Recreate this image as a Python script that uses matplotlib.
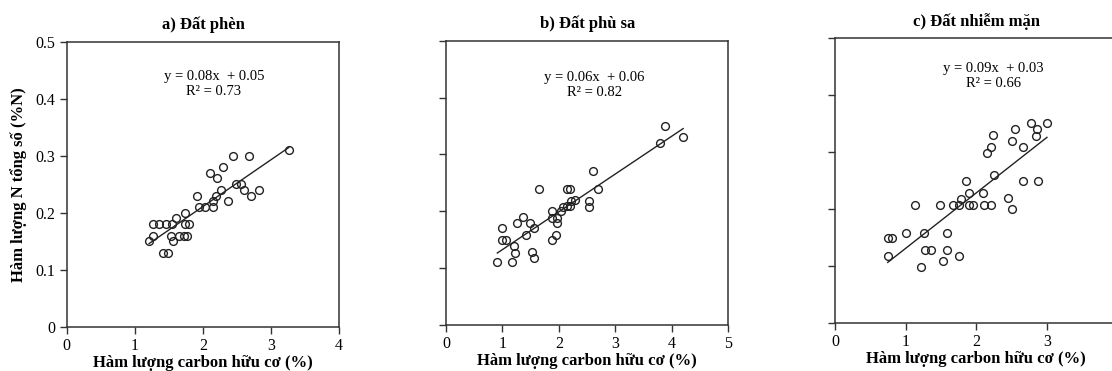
import numpy as np
import matplotlib
matplotlib.use("Agg")
import matplotlib.pyplot as plt

plt.rcParams["font.family"] = ["Liberation Serif", "DejaVu Serif"]

# Data (organic carbon %, total N %)
a_x = [1.21, 1.26, 1.26, 1.36, 1.46, 1.545, 1.60, 1.525, 1.565, 1.65, 1.72, 1.77,
       1.735, 1.80, 1.74, 1.42, 1.49, 1.91, 1.945, 2.03, 2.15, 2.15, 2.185, 2.10,
       2.21, 2.26, 2.29, 2.37, 2.435, 2.68, 2.48, 2.56, 2.60, 2.71, 2.82, 3.26]
a_y = [0.15, 0.16, 0.18, 0.18, 0.18, 0.18, 0.19, 0.16, 0.15, 0.16, 0.16, 0.16,
       0.18, 0.18, 0.20, 0.13, 0.13, 0.23, 0.21, 0.21, 0.21, 0.22, 0.23, 0.27,
       0.26, 0.24, 0.28, 0.22, 0.30, 0.30, 0.25, 0.25, 0.24, 0.23, 0.24, 0.31]

b_x = [0.91, 1.17, 1.0, 1.0, 1.06, 1.21, 1.23, 1.26, 1.37, 1.415, 1.486, 1.557,
       1.53, 1.557, 1.65, 1.87, 1.946, 1.88, 1.88, 1.97, 1.97, 2.03, 2.075, 2.145,
       2.19, 2.22, 2.29, 2.145, 2.19, 2.53, 2.53, 2.61, 2.69, 3.79, 3.87, 4.20]
b_y = [0.11, 0.11, 0.17, 0.15, 0.15, 0.139, 0.127, 0.18, 0.19, 0.158, 0.18, 0.17,
       0.129, 0.118, 0.239, 0.149, 0.158, 0.20, 0.189, 0.189, 0.18, 0.20, 0.208, 0.209,
       0.21, 0.219, 0.22, 0.239, 0.239, 0.219, 0.208, 0.271, 0.239, 0.32, 0.35, 0.33]

c_x = [0.745, 0.745, 0.80, 1.0, 1.13, 1.26, 1.215, 1.28, 1.36, 1.49, 1.53, 1.58,
       1.59, 1.665, 1.76, 1.75, 1.78, 1.855, 1.895, 1.90, 1.95, 2.10, 2.11, 2.21,
       2.15, 2.21, 2.24, 2.25, 2.45, 2.51, 2.51, 2.55, 2.655, 2.665, 2.78, 2.86,
       2.845, 2.87, 3.0]
c_y = [0.118, 0.149, 0.149, 0.159, 0.208, 0.159, 0.099, 0.129, 0.129, 0.208, 0.109, 0.129,
       0.159, 0.208, 0.118, 0.208, 0.218, 0.25, 0.229, 0.208, 0.208, 0.229, 0.208, 0.208,
       0.298, 0.309, 0.33, 0.26, 0.219, 0.20, 0.319, 0.34, 0.309, 0.25, 0.351, 0.34,
       0.329, 0.25, 0.351]

titles = ["a) Đất phèn", "b) Đất phù sa", "c) Đất nhiễm mặn"]
equations = ["y = 0.08x  + 0.05\nR² = 0.73",
             "y = 0.06x  + 0.06\nR² = 0.82",
             "y = 0.09x  + 0.03\nR² = 0.66"]
x_max = [4, 5, 4]
x_ticks = [[0, 1, 2, 3, 4], [0, 1, 2, 3, 4, 5], [0, 1, 2, 3]]  # 4 on panel c is cropped away
y_ticks = [0, 0.1, 0.2, 0.3, 0.4, 0.5]
y_ticklabels = ["0", "0.1", "0.2", "0.3", "0.4", "0.5"]
xlabel = "Hàm lượng carbon hữu cơ (%)"
ylabel = "Hàm lượng N tổng số (%N)"

# axes boxes in figure fractions (panel c runs past the right edge, as in the source)
boxes = [[0.060, 0.119, 0.245, 0.769],
         [0.401, 0.124, 0.254, 0.766],
         [0.751, 0.129, 0.254, 0.768]]
eq_pos = [(0.54, 0.85), (0.526, 0.845), (0.559, 0.868)]

fig = plt.figure(figsize=(11.12, 3.71), dpi=100)

panels = [(a_x, a_y), (b_x, b_y), (c_x, c_y)]
for i, (xs, ys) in enumerate(panels):
    ax = fig.add_axes(boxes[i])
    xs = np.array(xs)
    ys = np.array(ys)
    ax.plot(xs, ys, "o", mfc="none", mec="#222222", ms=5.6, mew=1.0, clip_on=False)
    # least-squares trend line over the data range
    k, b = np.polyfit(xs, ys, 1)
    lx = np.array([xs.min(), xs.max()])
    ax.plot(lx, k * lx + b, color="#222222", lw=1.0)

    ax.set_xlim(0, x_max[i])
    ax.set_ylim(0, 0.5)
    ax.set_xticks(x_ticks[i])
    ax.set_yticks(y_ticks)
    if i == 0:
        ax.set_yticklabels(y_ticklabels)
        ax.set_ylabel(ylabel, fontsize=12, fontweight="bold", labelpad=6)
    else:
        ax.tick_params(axis="y", labelleft=False)
    ax.tick_params(direction="out", length=5, width=1, labelsize=11.5, color="#333333", pad=3)
    for sp in ax.spines.values():
        sp.set_linewidth(1.1)
        sp.set_color("#333333")

    ax.set_xlabel(xlabel, fontsize=12, fontweight="bold", labelpad=0.5)
    ax.set_title(titles[i], fontsize=12, fontweight="bold", pad=9)
    ax.text(eq_pos[i][0], eq_pos[i][1], equations[i], transform=ax.transAxes,
            ha="center", va="center", fontsize=10.5, linespacing=1.2)

fig.savefig("out.png", dpi=100)
